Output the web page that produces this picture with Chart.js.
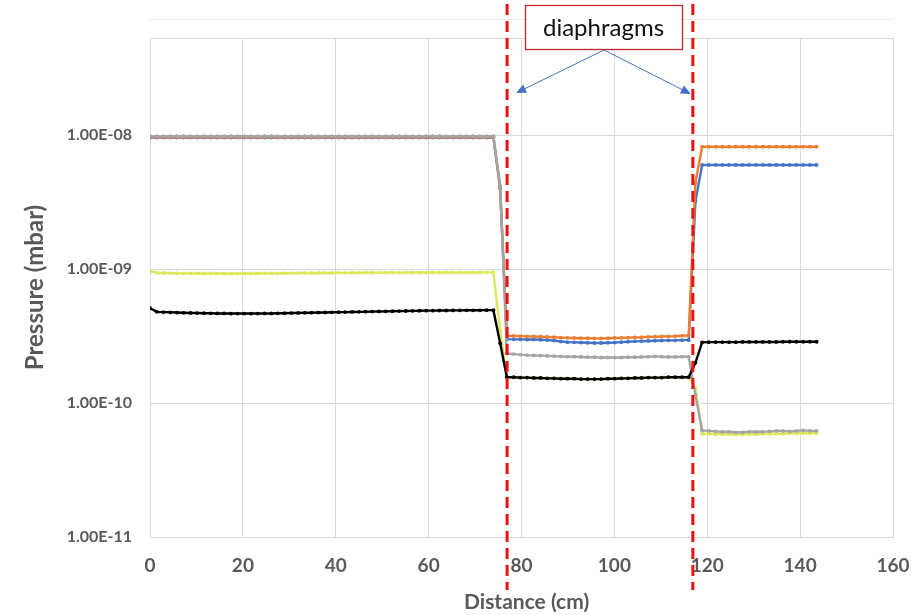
<!DOCTYPE html>
<html><head><meta charset="utf-8">
<script src="https://cdn.jsdelivr.net/npm/chart.js@4.4.1/dist/chart.umd.min.js"></script>
<style>html,body{margin:0;padding:0;background:#fff;}#wrap{width:917px;height:615px;}</style>
</head><body><div id="wrap"><canvas id="c" width="917" height="615"></canvas></div>
<script>
// ---- data (distance in cm, pressure in mbar) ----
const distance = [0,1.45,2.9,4.35,5.8,7.25,8.7,10.15,11.6,13.05,
14.5,15.95,17.4,18.85,20.3,21.75,23.2,24.65,26.1,27.55,
29,30.45,31.9,33.35,34.8,36.25,37.7,39.15,40.6,42.05,
43.5,44.95,46.4,47.85,49.3,50.75,52.2,53.65,55.1,56.55,
58,59.45,60.9,62.35,63.8,65.25,66.7,68.15,69.6,71.05,
72.5,73.95,75.4,76.85,78.3,79.75,81.2,82.65,84.1,85.55,
87,88.45,89.9,91.35,92.8,94.25,95.7,97.15,98.6,100.05,
101.5,102.95,104.4,105.85,107.3,108.75,110.2,111.65,113.1,114.55,
116,117.45,118.9,120.35,121.8,123.25,124.7,126.15,127.6,129.05,
130.5,131.95,133.4,134.85,136.3,137.75,139.2,140.65,142.1,143.55];

const pressureBlue = [9.6e-9,9.6e-9,9.6e-9,9.6e-9,9.6e-9,9.6e-9,9.6e-9,9.6e-9,9.6e-9,9.6e-9,
9.6e-9,9.6e-9,9.6e-9,9.6e-9,9.6e-9,9.6e-9,9.6e-9,9.6e-9,9.6e-9,9.6e-9,
9.6e-9,9.6e-9,9.6e-9,9.6e-9,9.6e-9,9.6e-9,9.6e-9,9.6e-9,9.6e-9,9.6e-9,
9.6e-9,9.6e-9,9.6e-9,9.6e-9,9.6e-9,9.6e-9,9.6e-9,9.6e-9,9.6e-9,9.6e-9,
9.6e-9,9.6e-9,9.6e-9,9.6e-9,9.6e-9,9.6e-9,9.6e-9,9.6e-9,9.6e-9,9.6e-9,
9.6e-9,9.6e-9,4.0e-9,
3.0e-10,2.99e-10,2.99e-10,2.98e-10,2.98e-10,2.97e-10,2.96e-10,2.93e-10,2.88e-10,2.85e-10,
2.84e-10,2.83e-10,2.82e-10,2.81e-10,2.81e-10,2.82e-10,2.83e-10,2.85e-10,2.87e-10,2.89e-10,
2.9e-10,2.91e-10,2.92e-10,2.93e-10,2.94e-10,2.94e-10,2.95e-10,2.95e-10,
3.2e-9,
6.0e-9,6.0e-9,6.0e-9,6.0e-9,6.0e-9,6.0e-9,6.0e-9,6.0e-9,6.0e-9,
6.0e-9,6.0e-9,6.0e-9,6.0e-9,6.0e-9,6.0e-9,6.0e-9,6.0e-9,6.0e-9];

const pressureOrange = [9.7e-9,9.7e-9,9.7e-9,9.7e-9,9.7e-9,9.7e-9,9.7e-9,9.7e-9,9.7e-9,9.7e-9,
9.7e-9,9.7e-9,9.7e-9,9.7e-9,9.7e-9,9.7e-9,9.7e-9,9.7e-9,9.7e-9,9.7e-9,
9.7e-9,9.7e-9,9.7e-9,9.7e-9,9.7e-9,9.7e-9,9.7e-9,9.7e-9,9.7e-9,9.7e-9,
9.7e-9,9.7e-9,9.7e-9,9.7e-9,9.7e-9,9.7e-9,9.7e-9,9.7e-9,9.7e-9,9.7e-9,
9.7e-9,9.7e-9,9.7e-9,9.7e-9,9.7e-9,9.7e-9,9.7e-9,9.7e-9,9.7e-9,9.7e-9,
9.7e-9,9.7e-9,4.1e-9,
3.18e-10,3.17e-10,3.16e-10,3.15e-10,3.14e-10,3.13e-10,3.12e-10,3.1e-10,3.08e-10,3.07e-10,
3.06e-10,3.05e-10,3.05e-10,3.04e-10,3.04e-10,3.05e-10,3.06e-10,3.07e-10,3.08e-10,3.09e-10,
3.1e-10,3.12e-10,3.13e-10,3.14e-10,3.15e-10,3.16e-10,3.18e-10,3.19e-10,
4.4e-9,
8.2e-9,8.2e-9,8.2e-9,8.2e-9,8.2e-9,8.2e-9,8.2e-9,8.2e-9,8.2e-9,
8.2e-9,8.2e-9,8.2e-9,8.2e-9,8.2e-9,8.2e-9,8.2e-9,8.2e-9,8.2e-9];

const pressureGrey = [9.83e-9,9.83e-9,9.83e-9,9.83e-9,9.83e-9,9.83e-9,9.83e-9,9.83e-9,9.83e-9,9.83e-9,
9.83e-9,9.83e-9,9.83e-9,9.83e-9,9.83e-9,9.83e-9,9.83e-9,9.83e-9,9.83e-9,9.83e-9,
9.83e-9,9.83e-9,9.83e-9,9.83e-9,9.83e-9,9.83e-9,9.83e-9,9.83e-9,9.83e-9,9.83e-9,
9.83e-9,9.83e-9,9.83e-9,9.83e-9,9.83e-9,9.83e-9,9.83e-9,9.83e-9,9.83e-9,9.83e-9,
9.83e-9,9.83e-9,9.83e-9,9.83e-9,9.83e-9,9.83e-9,9.83e-9,9.83e-9,9.83e-9,9.83e-9,
9.83e-9,9.83e-9,4.2e-9,
2.35e-10,2.32e-10,2.3e-10,2.28e-10,2.27e-10,2.26e-10,2.25e-10,2.24e-10,2.23e-10,2.22e-10,
2.22e-10,2.21e-10,2.2e-10,2.2e-10,2.19e-10,2.19e-10,2.19e-10,2.19e-10,2.2e-10,2.2e-10,
2.21e-10,2.22e-10,2.23e-10,2.22e-10,2.21e-10,2.21e-10,2.22e-10,2.22e-10,
1.15e-10,
6.25e-11,6.2e-11,6.15e-11,6.1e-11,6.1e-11,6.05e-11,6.05e-11,6.1e-11,6.1e-11,
6.1e-11,6.15e-11,6.2e-11,6.2e-11,6.15e-11,6.2e-11,6.25e-11,6.2e-11,6.2e-11];

const pressureYellow = [9.66e-10,9.4e-10,9.36e-10,9.34e-10,9.32e-10,9.3e-10,9.3e-10,9.29e-10,9.28e-10,9.28e-10,
9.27e-10,9.27e-10,9.27e-10,9.27e-10,9.28e-10,9.28e-10,9.29e-10,9.3e-10,9.3e-10,9.31e-10,
9.32e-10,9.33e-10,9.34e-10,9.35e-10,9.36e-10,9.36e-10,9.37e-10,9.37e-10,9.38e-10,9.38e-10,
9.39e-10,9.39e-10,9.4e-10,9.4e-10,9.41e-10,9.41e-10,9.42e-10,9.42e-10,9.42e-10,9.43e-10,
9.43e-10,9.43e-10,9.44e-10,9.44e-10,9.44e-10,9.45e-10,9.45e-10,9.45e-10,9.45e-10,9.45e-10,
9.46e-10,9.46e-10,3.5e-10,
1.56e-10,1.56e-10,1.55e-10,1.55e-10,1.54e-10,1.54e-10,1.53e-10,1.53e-10,1.52e-10,1.52e-10,
1.52e-10,1.51e-10,1.51e-10,1.51e-10,1.51e-10,1.52e-10,1.52e-10,1.53e-10,1.53e-10,1.54e-10,
1.54e-10,1.55e-10,1.55e-10,1.55e-10,1.56e-10,1.56e-10,1.56e-10,1.56e-10,
1.3e-10,
5.9e-11,5.9e-11,5.85e-11,5.85e-11,5.85e-11,5.85e-11,5.85e-11,5.85e-11,5.85e-11,
5.9e-11,5.9e-11,5.9e-11,5.9e-11,5.95e-11,5.95e-11,5.95e-11,5.95e-11,5.95e-11];

const pressureBlack = [5.12e-10,4.8e-10,4.78e-10,4.76e-10,4.74e-10,4.72e-10,4.71e-10,4.7e-10,4.69e-10,4.68e-10,
4.67e-10,4.67e-10,4.66e-10,4.66e-10,4.66e-10,4.66e-10,4.66e-10,4.67e-10,4.67e-10,4.68e-10,
4.69e-10,4.7e-10,4.71e-10,4.72e-10,4.73e-10,4.74e-10,4.75e-10,4.76e-10,4.77e-10,4.78e-10,
4.79e-10,4.8e-10,4.81e-10,4.82e-10,4.83e-10,4.84e-10,4.85e-10,4.86e-10,4.87e-10,4.88e-10,
4.89e-10,4.9e-10,4.9e-10,4.91e-10,4.91e-10,4.92e-10,4.92e-10,4.93e-10,4.93e-10,4.93e-10,
4.94e-10,4.94e-10,2.8e-10,
1.56e-10,1.56e-10,1.55e-10,1.55e-10,1.54e-10,1.54e-10,1.53e-10,1.53e-10,1.52e-10,1.52e-10,
1.52e-10,1.51e-10,1.51e-10,1.51e-10,1.51e-10,1.52e-10,1.52e-10,1.53e-10,1.53e-10,1.54e-10,
1.54e-10,1.55e-10,1.55e-10,1.55e-10,1.56e-10,1.56e-10,1.56e-10,1.56e-10,
2.0e-10,
2.84e-10,2.85e-10,2.85e-10,2.85e-10,2.85e-10,2.85e-10,2.86e-10,2.86e-10,2.86e-10,
2.86e-10,2.86e-10,2.86e-10,2.87e-10,2.87e-10,2.87e-10,2.87e-10,2.87e-10,2.87e-10];

const yTickValues = [1e-11, 1e-10, 1e-9, 1e-8];
const yAxisMin = 1e-11;
const yAxisMax = 5.32e-8;
const xAxisMin = 0, xAxisMax = 160, xAxisStep = 20;
const diaphragmPositions = [76.9, 116.9];
const annotationLabel = 'diaphragms';
const xTitle = '  Distance (cm)';
const yTitle = 'Pressure (mbar)';

// ---- build ----
const pts = arr => distance.map((d, i) => ({x: d, y: arr[i]}));
const mk = (label, arr, color, order) => ({
  label, data: pts(arr), borderColor: color, backgroundColor: color,
  pointBackgroundColor: color, pointBorderColor: color, borderWidth: 2.4,
  pointRadius: 1.9, pointHoverRadius: 1.9, pointBorderWidth: 0, tension: 0, order
});

const AXIS_GREY = '#595959';
const GRID = '#D9D9D9';
const FONT = 'Lato';

function fmtExp(v) {
  const e = Math.round(Math.log10(v));
  const sign = e < 0 ? '-' : '+';
  const a = Math.abs(e);
  return '1.00E' + sign + (a < 10 ? '0' + a : '' + a);
}

const overlay = {
  id: 'overlay',
  afterDraw(chart) {
    const ctx = chart.ctx;
    const xs = chart.scales.x;
    const ca = chart.chartArea;
    ctx.save();
    // faint top line
    ctx.strokeStyle = '#E6E6E6'; ctx.lineWidth = 1;
    ctx.beginPath(); ctx.moveTo(ca.left, 19.5); ctx.lineTo(ca.right, 19.5); ctx.stroke();
    // dashed red lines
    ctx.strokeStyle = '#EE1111'; ctx.lineWidth = 3; ctx.setLineDash([11, 6]);
    const px = diaphragmPositions.map(v => xs.getPixelForValue(v));
    px.forEach(p => { ctx.beginPath(); ctx.moveTo(p, 4); ctx.lineTo(p, 590); ctx.stroke(); });
    ctx.setLineDash([]);
    // annotation box
    const bx = 525, by = 5, bw = 157, bh = 44;
    ctx.fillStyle = '#FFFFFF'; ctx.fillRect(bx, by, bw, bh);
    ctx.strokeStyle = '#C0272D'; ctx.lineWidth = 1.3; ctx.strokeRect(bx + 0.5, by + 0.5, bw, bh);
    ctx.fillStyle = '#111'; ctx.font = '24px ' + FONT; ctx.textAlign = 'center'; ctx.textBaseline = 'middle';
    ctx.fillText(annotationLabel, bx + bw / 2, by + bh / 2 + 1);
    // arrows
    const ox = 604, oy = by + bh + 1;
    const tips = [[px[0] + 9, 93], [px[1] - 2, 94]];
    ctx.strokeStyle = '#4472C4'; ctx.fillStyle = '#4472C4'; ctx.lineWidth = 1;
    tips.forEach(([tx, ty]) => {
      const ang = Math.atan2(ty - oy, tx - ox);
      const L = 10, W = 4.5;
      const bxp = tx - L * Math.cos(ang), byp = ty - L * Math.sin(ang);
      ctx.beginPath(); ctx.moveTo(ox, oy); ctx.lineTo(bxp, byp); ctx.stroke();
      ctx.beginPath();
      ctx.moveTo(tx, ty);
      ctx.lineTo(bxp + W * Math.sin(ang), byp - W * Math.cos(ang));
      ctx.lineTo(bxp - W * Math.sin(ang), byp + W * Math.cos(ang));
      ctx.closePath(); ctx.fill();
    });
    ctx.restore();
  }
};

new Chart(document.getElementById('c'), {
  type: 'line',
  data: {
    datasets: [
      mk('Black', pressureBlack, '#000000', 0),
      mk('Grey', pressureGrey, '#A5A5A5', 1),
      mk('Yellow', pressureYellow, '#DDE85A', 2),
      mk('Orange', pressureOrange, '#ED7D31', 3),
      mk('Blue', pressureBlue, '#4472C4', 4)
    ]
  },
  options: {
    responsive: false, animation: false,
    layout: {padding: {top: 38, right: 0, left: 0, bottom: 0}},
    plugins: {legend: {display: false}, tooltip: {enabled: false}},
    scales: {
      x: {
        type: 'linear', min: xAxisMin, max: xAxisMax,
        ticks: {stepSize: xAxisStep, color: AXIS_GREY, font: {family: FONT, size: 19, weight: 'bold'}, padding: 17, maxRotation: 0},
        grid: {color: GRID, drawTicks: false, lineWidth: 1},
        border: {color: GRID},
        title: {display: true, text: xTitle, color: AXIS_GREY, font: {family: FONT, size: 21, weight: 'bold'}, padding: {top: 0, bottom: 0}},
        afterFit: s => { s.height = 78; s.paddingRight = 24; s.paddingLeft = 0; }
      },
      y: {
        type: 'logarithmic', min: yAxisMin, max: yAxisMax, bounds: 'data',
        afterBuildTicks: s => { s.ticks = yTickValues.concat([yAxisMax]).map(v => ({value: v})); },
        ticks: {color: AXIS_GREY, font: {family: FONT, size: 16, weight: 'bold'}, padding: 18,
          callback: v => (yTickValues.some(t => Math.abs(t - v) / t < 1e-6) ? fmtExp(v) : '')},
        grid: {color: GRID, drawTicks: false, lineWidth: 1},
        border: {color: GRID},
        title: {display: true, text: yTitle, color: AXIS_GREY, font: {family: FONT, size: 24, weight: 'bold'}, padding: {top: 21, bottom: 0}},
        afterFit: s => { s.width = 150; }
      }
    }
  },
  plugins: [overlay]
});
</script>
</body></html>
